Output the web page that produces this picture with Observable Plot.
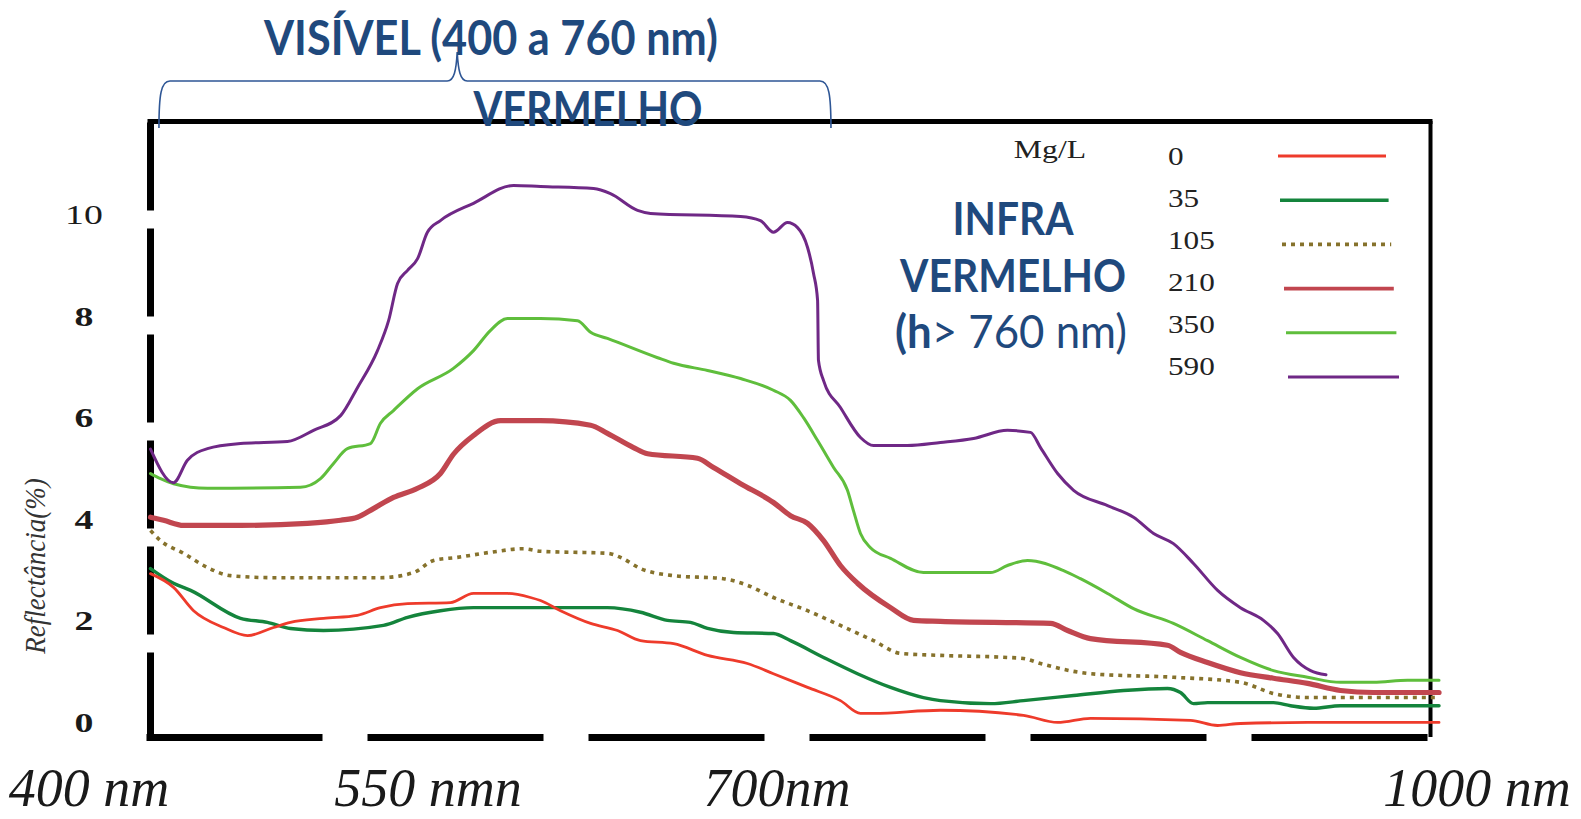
<!DOCTYPE html>
<html>
<head>
<meta charset="utf-8">
<script src="https://cdn.jsdelivr.net/npm/d3@7"></script>
<script src="https://cdn.jsdelivr.net/npm/@observablehq/plot@0.6"></script>
<style>
  html, body { margin: 0; padding: 0; background: #fff; }
  #chart { width: 1581px; height: 819px; }
</style>
</head>
<body>
<div id="chart"></div>
<script>
// Reflectance spectra (%) for each concentration (Mg/L): [wavelength nm, reflectance %]
const concentrations = ["0", "35", "105", "210", "350", "590"];

const spectrum0 = [[400,2.95],[410.8,2.68],[420.2,2.22],[434.2,1.89],[445.5,1.73],[457.7,1.89],[465.6,1.99],[481.1,2.07],[497,2.13],[507.8,2.28],[520.5,2.36],[540.6,2.38],[551.4,2.56],[567.3,2.56],[578.1,2.48],[582.8,2.42],[592.2,2.22],[606.3,1.97],[618.9,1.83],[629.7,1.63],[645.2,1.57],[661.1,1.34],[679.8,1.18],[692,0.98],[708,0.71],[723.4,0.45],[732.8,0.2],[738.9,0.2],[770.3,0.26],[809.2,0.16],[825.2,0.02],[840.6,0.1],[887.5,0.06],[900.2,-0.04],[910.9,0],[942.4,0.02],[1004,0.02]];

const spectrum35 = [[400,3.05],[410.8,2.76],[418.8,2.62],[442.2,2.07],[454.8,1.99],[465.6,1.87],[481.1,1.83],[509.2,1.93],[520.5,2.09],[535.9,2.22],[551.4,2.28],[614.2,2.28],[629.7,2.19],[642.3,2.03],[653.1,1.99],[661.1,1.87],[673.3,1.79],[692,1.77],[700,1.63],[715.5,1.3],[731.4,0.98],[746.9,0.71],[762.3,0.51],[770.3,0.45],[793.8,0.39],[809.2,0.45],[832.7,0.55],[856.1,0.65],[876.7,0.69],[882.8,0.61],[888.9,0.39],[895.5,0.41],[926.4,0.41],[934.4,0.35],[945.2,0.3],[957.8,0.35],[1004,0.35]];

const spectrum105 = [[400,3.8],[404.7,3.6],[415.5,3.35],[426.7,3.07],[437.5,2.91],[457.7,2.87],[507.8,2.87],[523.3,2.97],[532.7,3.21],[543.9,3.27],[559.4,3.37],[574.8,3.44],[582.8,3.39],[614.2,3.35],[620.3,3.27],[629.7,3.05],[645.2,2.91],[668.6,2.85],[679.8,2.72],[692,2.48],[708,2.22],[723.4,1.93],[738.9,1.63],[751.6,1.38],[770.3,1.34],[801.7,1.3],[809.2,1.28],[817.2,1.18],[840.6,0.98],[879.5,0.91],[910.9,0.81],[926.4,0.59],[942.4,0.51],[1004,0.51]];

const spectrum210 = [[400,4.06],[406.1,4],[415.5,3.9],[442.2,3.9],[473.6,3.94],[489.1,4],[497,4.06],[504.5,4.23],[513.9,4.45],[525.2,4.63],[535.9,4.92],[542,5.3],[551.4,5.67],[564.1,5.96],[582.8,5.96],[606.3,5.87],[614.2,5.71],[626.4,5.43],[633,5.31],[656.4,5.22],[663.9,5.04],[676.6,4.72],[692,4.35],[700,4.09],[708,3.94],[715.5,3.6],[723.4,3.11],[731.4,2.76],[746.9,2.28],[757.7,2.03],[770.3,2.01],[821.9,1.97],[829.9,1.83],[840.6,1.67],[876.7,1.54],[882.8,1.4],[895.5,1.2],[910.9,1],[926.4,0.89],[942.4,0.79],[957.8,0.65],[973.3,0.61],[1004,0.61]];

const spectrum350 = [[400,4.92],[404.7,4.82],[410.8,4.72],[426.7,4.63],[470.3,4.65],[479.7,4.82],[485.8,5.12],[492.3,5.41],[503.1,5.51],[507.8,5.91],[513.9,6.16],[525.2,6.59],[542,6.99],[551.4,7.34],[559.4,7.74],[567.3,7.97],[582.8,7.97],[600.2,7.93],[606.3,7.7],[614.2,7.58],[637.7,7.2],[645.2,7.09],[661.1,6.95],[676.6,6.79],[692,6.56],[700,6.36],[706.1,6.02],[712.7,5.57],[720.2,5.04],[726.7,4.59],[729.5,4.19],[732.8,3.74],[737.5,3.46],[746.9,3.25],[762.3,2.97],[793.8,2.97],[801.7,3.11],[811.1,3.21],[828,3.01],[835.9,2.85],[848.6,2.56],[860.8,2.26],[879.5,1.97],[895.5,1.63],[910.9,1.3],[926.4,1.04],[942.4,0.91],[957.8,0.81],[973.3,0.81],[989.2,0.85],[1004,0.85]];

const spectrum590 = [[400,5.4],[410.8,4.74],[417.3,5.18],[426.7,5.41],[442.2,5.51],[464.2,5.55],[476.4,5.77],[489.1,6.06],[497,6.61],[506.4,7.34],[511.6,7.93],[515.8,8.66],[520.5,8.92],[525.2,9.15],[529.8,9.67],[535.9,9.9],[551.4,10.24],[570.2,10.59],[582.8,10.57],[607.7,10.53],[615.6,10.43],[628.3,10.1],[634.4,10.04],[676.6,9.98],[685.9,9.9],[692,9.67],[698.6,9.86],[703.3,9.76],[708,9.37],[710.8,8.86],[712.7,8.33],[713.1,7.15],[715.5,6.75],[723.4,6.22],[732.8,5.63],[738.9,5.47],[754.8,5.47],[770.3,5.53],[785.8,5.61],[801.7,5.77],[812.5,5.73],[817.2,5.43],[825.2,4.92],[832.7,4.59],[848.6,4.29],[860.8,4.06],[870.2,3.74],[879.5,3.54],[888.9,3.15],[900.2,2.62],[910.9,2.28],[921.7,2.03],[928.3,1.77],[935.8,1.3],[943.8,1.04],[951,0.96]];

const spectra = [spectrum0, spectrum35, spectrum105, spectrum210, spectrum350, spectrum590];

// Axis ticks and texts
const yTicks = [0, 2, 4, 6, 8, 10];
const xTicks = [400, 550, 700, 1000];
const xTickLabels = ["400 nm", "550 nmn", "700nm", "1000 nm"];
const yTitle = "Reflectância(%)";
const legendTitle = "Mg/L";
const visibleTitle = "VISÍVEL (400 a 760 nm)";
const redTitle = "VERMELHO";
const infraTitle = ["INFRA", "VERMELHO"];
const infraRange = ["(h", "> 760 nm)"];
// Wavelength span covered by the brace above the frame
const braceFrom = 404.2, braceTip = 544, braceTo = 719.2;

// Plot extents (wavelength and reflectance)
const xDomain = [400, 1000];
const yDomain = [-0.276, 11.85];

// Stroke styles per concentration
const lineStyle = {
  "0":   {color: "#ee3b2b", width: 2.8},
  "35":  {color: "#14843c", width: 3.4},
  "105": {color: "#86722c", width: 3.6, dash: "4,5"},
  "210": {color: "#c1464f", width: 5.2},
  "350": {color: "#5fbe3c", width: 3},
  "590": {color: "#6f2886", width: 3}
};
const drawOrder = ["210", "105", "350", "590", "35", "0"];

const rows = concentrations.flatMap((c, i) => spectra[i].map(([nm, r]) => ({conc: c, nm, r})));

const blue = "#1f497d";
const serif = "'Liberation Serif', 'Times New Roman', serif";
const sans = "Lato, 'Open Sans', sans-serif";

function addText(g, {x, y, text, size, family = serif, weight = "normal", style = "normal",
                     anchor = "start", sx = 1, fill = "#111", rotate = 0, length}) {
  const t = g.append("text")
    .attr("transform", `translate(${x},${y})${rotate ? ` rotate(${rotate})` : ""} scale(${sx},1)`)
    .attr("text-anchor", anchor)
    .attr("font-family", family)
    .attr("font-size", size)
    .attr("font-weight", weight)
    .attr("font-style", style)
    .attr("fill", fill);
  if (text != null) t.text(text);
  if (length) t.attr("textLength", length).attr("lengthAdjust", "spacingAndGlyphs");
  return t;
}

// Axis labels: tick values on y, wavelength captions on x, rotated y title
function axisLabels(index, scales) {
  const g = d3.create("svg:g");
  const x = scales.x, y = scales.y;
  yTicks.forEach(v => addText(g, {
    x: x(400) - 66, y: y(v) + 9, text: String(v), size: 27,
    weight: v === 10 ? "normal" : "bold", anchor: "middle", sx: 1.4, fill: "#1a1a1a"
  }));
  const xShift = [-61, -42, -13, 47];
  xTicks.forEach((v, i) => addText(g, {
    x: x(v) + xShift[i], y: 806, text: xTickLabels[i], size: 54,
    style: "italic", anchor: "middle", fill: "#1a1a1a"
  }));
  addText(g, {x: 45, y: 566, text: yTitle, size: 30, style: "italic",
              anchor: "middle", rotate: -90, sx: 0.9, fill: "#333"});
  return g.node();
}

// Legend: concentration labels with stroke samples
function legend() {
  const g = d3.create("svg:g");
  addText(g, {x: 1050, y: 158, text: legendTitle, size: 26, anchor: "middle", sx: 1.22, fill: "#222"});
  concentrations.forEach((c, i) => {
    const s = lineStyle[c];
    addText(g, {x: 1168, y: 165 + 42 * i, text: c, size: 26, sx: 1.2, fill: "#222"});
    const ly = 156 + 44.2 * i;
    g.append("line")
      .attr("x1", 1278 + 2 * i).attr("x2", 1386 + 2.6 * i)
      .attr("y1", ly).attr("y2", ly)
      .attr("stroke", s.color)
      .attr("stroke-width", Math.min(s.width, 3.6))
      .attr("stroke-dasharray", s.dash ?? null);
  });
  return g.node();
}

// Region annotations: visible-range brace and captions
function regions(index, scales) {
  const g = d3.create("svg:g");
  const x0 = scales.x(braceFrom), xt = scales.x(braceTip), x1 = scales.x(braceTo);
  const p = d3.path();
  p.moveTo(x0, 128);
  p.bezierCurveTo(x0, 95, x0 + 2, 81, x0 + 11, 81);
  p.lineTo(xt - 10, 81);
  p.bezierCurveTo(xt - 3, 81, xt - 1, 70, xt, 52);
  p.bezierCurveTo(xt + 1, 70, xt + 3, 81, xt + 10, 81);
  p.lineTo(x1 - 11, 81);
  p.bezierCurveTo(x1 - 2, 81, x1, 95, x1, 128);
  g.append("path").attr("d", p.toString()).attr("fill", "none")
    .attr("stroke", "#2e5695").attr("stroke-width", 1.6);

  addText(g, {x: 491, y: 55, text: visibleTitle, size: 47, family: sans, weight: "bold",
              anchor: "middle", fill: blue, length: 454});
  addText(g, {x: 588, y: 126, text: redTitle, size: 47, family: sans, weight: "bold",
              anchor: "middle", fill: blue, length: 229});
  addText(g, {x: 1013, y: 235, text: infraTitle[0], size: 46, family: sans, weight: "bold",
              anchor: "middle", fill: blue, length: 121});
  addText(g, {x: 1013, y: 292, text: infraTitle[1], size: 46, family: sans, weight: "bold",
              anchor: "middle", fill: blue, length: 226});
  const t = addText(g, {x: 1011, y: 348, size: 46, family: sans, anchor: "middle", fill: blue, length: 232});
  t.append("tspan").attr("font-weight", "bold").text(infraRange[0]);
  t.append("tspan").attr("font-weight", "normal").text(infraRange[1]);
  return g.node();
}

const chart = Plot.plot({
  width: 1581,
  height: 819,
  marginTop: 121,
  marginBottom: 82,
  marginLeft: 150,
  marginRight: 151,
  x: {domain: xDomain, axis: null},
  y: {domain: yDomain, axis: null},
  style: {background: "#fff", overflow: "visible"},
  marks: [
    // frame: solid top and right, heavy dashed left and bottom
    Plot.ruleY([yDomain[1]], {x1: () => xDomain[0], x2: () => xDomain[1], stroke: "#000", strokeWidth: 5, strokeLinecap: "square"}),
    Plot.ruleX([xDomain[1]], {y1: () => yDomain[0], y2: () => yDomain[1], stroke: "#000", strokeWidth: 4}),
    Plot.ruleX([xDomain[0]], {y1: () => yDomain[0], y2: () => yDomain[1], stroke: "#000", strokeWidth: 7, strokeDasharray: "81,25", strokeLinecap: "square"}),
    Plot.ruleY([yDomain[0]], {x1: () => xDomain[0], x2: () => xDomain[1], stroke: "#000", strokeWidth: 7, strokeDasharray: "169,52", strokeLinecap: "square"}),
    ...drawOrder.map(c => {
      const s = lineStyle[c];
      return Plot.line(rows.filter(d => d.conc === c), {
        x: "nm", y: "r", stroke: s.color, strokeWidth: s.width,
        strokeDasharray: s.dash, curve: "monotone-x",
        strokeLinecap: s.dash ? "butt" : "round", strokeLinejoin: "round"
      });
    }),
    axisLabels,
    legend,
    regions
  ]
});

document.getElementById("chart").appendChild(chart);
</script>
</body>
</html>
